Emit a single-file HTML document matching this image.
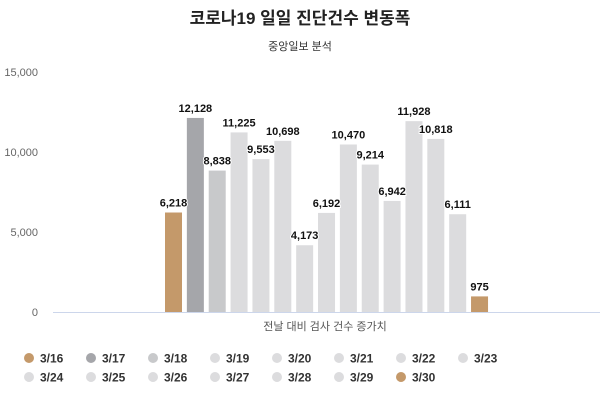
<!DOCTYPE html>
<html><head><meta charset="utf-8"><style>
body{margin:0;background:#fff;width:600px;height:400px;overflow:hidden}
svg text{font-family:"Liberation Sans","Noto Sans CJK KR",sans-serif}
.v{font-size:11px;font-weight:bold;fill:#111;text-anchor:middle;stroke:#fff;stroke-width:2px;paint-order:stroke}
.l{font-size:12px;font-weight:bold;fill:#333}
</style></head><body>
<svg width="600" height="400" xmlns="http://www.w3.org/2000/svg">
<text x="300" y="24" text-anchor="middle" font-size="17" font-weight="bold" fill="#222">코로나19 일일 진단건수 변동폭</text>
<text x="300" y="50" text-anchor="middle" font-size="11" fill="#333">중앙일보 분석</text>
<g font-size="11" fill="#666" text-anchor="end">
<text x="38" y="76">15,000</text><text x="38" y="156">10,000</text><text x="38" y="236">5,000</text><text x="38" y="316">0</text>
</g>
<line x1="53" y1="312.5" x2="600" y2="312.5" stroke="#ccd6eb" stroke-width="1"/>
<text x="325" y="330" text-anchor="middle" font-size="11" fill="#555">전날 대비 검사 건수 증가치</text>
<g>
<rect x="165" y="212.51" width="17" height="99.49" fill="#c4996a"/>
<rect x="186.86" y="117.95" width="17" height="194.05" fill="#a5a6aa"/>
<rect x="208.72" y="170.59" width="17" height="141.41" fill="#c8c9cb"/>
<rect x="230.58" y="132.4" width="17" height="179.6" fill="#dcdcde"/>
<rect x="252.44" y="159.15" width="17" height="152.85" fill="#dcdcde"/>
<rect x="274.3" y="140.83" width="17" height="171.17" fill="#dcdcde"/>
<rect x="296.16" y="245.23" width="17" height="66.77" fill="#dcdcde"/>
<rect x="318.02" y="212.93" width="17" height="99.07" fill="#dcdcde"/>
<rect x="339.88" y="144.48" width="17" height="167.52" fill="#dcdcde"/>
<rect x="361.74" y="164.58" width="17" height="147.42" fill="#dcdcde"/>
<rect x="383.6" y="200.93" width="17" height="111.07" fill="#dcdcde"/>
<rect x="405.46" y="121.15" width="17" height="190.85" fill="#dcdcde"/>
<rect x="427.32" y="138.91" width="17" height="173.09" fill="#dcdcde"/>
<rect x="449.18" y="214.22" width="17" height="97.78" fill="#dcdcde"/>
<rect x="471.04" y="296.4" width="17" height="15.6" fill="#c4996a"/>
</g>
<g>
<text class="v" x="173.5" y="206.5">6,218</text>
<text class="v" x="195.36" y="112">12,128</text>
<text class="v" x="217.22" y="164.6">8,838</text>
<text class="v" x="239.08" y="126.4">11,225</text>
<text class="v" x="260.94" y="153.2">9,553</text>
<text class="v" x="282.8" y="134.8">10,698</text>
<text class="v" x="304.66" y="239.2">4,173</text>
<text class="v" x="326.52" y="206.9">6,192</text>
<text class="v" x="348.38" y="138.5">10,470</text>
<text class="v" x="370.24" y="158.6">9,214</text>
<text class="v" x="392.1" y="194.9">6,942</text>
<text class="v" x="413.96" y="115.2">11,928</text>
<text class="v" x="435.82" y="132.9">10,818</text>
<text class="v" x="457.68" y="208.2">6,111</text>
<text class="v" x="479.54" y="290.4">975</text>
</g>
<g>
<circle cx="29" cy="358" r="5" fill="#c4996a"/><text class="l" x="40" y="362.5">3/16</text>
<circle cx="91" cy="358" r="5" fill="#a5a6aa"/><text class="l" x="102" y="362.5">3/17</text>
<circle cx="153" cy="358" r="5" fill="#c8c9cb"/><text class="l" x="164" y="362.5">3/18</text>
<circle cx="215" cy="358" r="5" fill="#dcdcde"/><text class="l" x="226" y="362.5">3/19</text>
<circle cx="277" cy="358" r="5" fill="#dcdcde"/><text class="l" x="288" y="362.5">3/20</text>
<circle cx="339" cy="358" r="5" fill="#dcdcde"/><text class="l" x="350" y="362.5">3/21</text>
<circle cx="401" cy="358" r="5" fill="#dcdcde"/><text class="l" x="412" y="362.5">3/22</text>
<circle cx="463" cy="358" r="5" fill="#dcdcde"/><text class="l" x="474" y="362.5">3/23</text>
<circle cx="29" cy="377" r="5" fill="#dcdcde"/><text class="l" x="40" y="381.5">3/24</text>
<circle cx="91" cy="377" r="5" fill="#dcdcde"/><text class="l" x="102" y="381.5">3/25</text>
<circle cx="153" cy="377" r="5" fill="#dcdcde"/><text class="l" x="164" y="381.5">3/26</text>
<circle cx="215" cy="377" r="5" fill="#dcdcde"/><text class="l" x="226" y="381.5">3/27</text>
<circle cx="277" cy="377" r="5" fill="#dcdcde"/><text class="l" x="288" y="381.5">3/28</text>
<circle cx="339" cy="377" r="5" fill="#dcdcde"/><text class="l" x="350" y="381.5">3/29</text>
<circle cx="401" cy="377" r="5" fill="#c4996a"/><text class="l" x="412" y="381.5">3/30</text>
</g>
</svg>
</body></html>
